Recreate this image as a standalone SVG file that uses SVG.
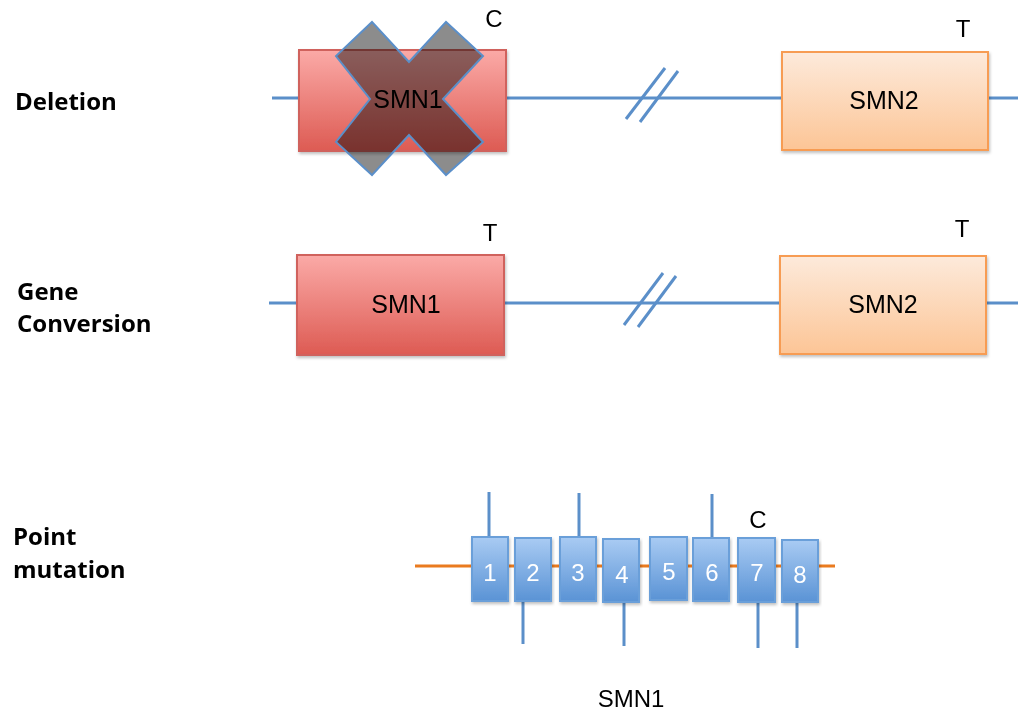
<svg xmlns="http://www.w3.org/2000/svg" width="1018" height="714" viewBox="0 0 1018 714">
<defs>
  <linearGradient id="gRed" x1="0" y1="0" x2="0" y2="1">
    <stop offset="0" stop-color="#fbaaa7"/>
    <stop offset="1" stop-color="#dd5b53"/>
  </linearGradient>
  <linearGradient id="gOrange" x1="0" y1="0" x2="0" y2="1">
    <stop offset="0" stop-color="#fdeadb"/>
    <stop offset="1" stop-color="#fcc596"/>
  </linearGradient>
  <linearGradient id="gBlue" x1="0" y1="0" x2="0" y2="1">
    <stop offset="0" stop-color="#a9cbf3"/>
    <stop offset="1" stop-color="#5a93d5"/>
  </linearGradient>
  <filter id="shadow" x="-10%" y="-10%" width="120%" height="130%">
    <feDropShadow dx="1" dy="2" stdDeviation="1.5" flood-color="#000" flood-opacity="0.25"/>
  </filter>
</defs>
<style>
  .dna { stroke: #5b8fc9; stroke-width: 3; fill: none; }
  .orangeLine { stroke: #ea7b1f; stroke-width: 3; fill: none; }
  .smn1 { fill: url(#gRed); stroke: #d0625d; stroke-width: 2; filter: url(#shadow); }
  .smn2 { fill: url(#gOrange); stroke: #f79c52; stroke-width: 2; filter: url(#shadow); }
  .exon { fill: url(#gBlue); stroke: #6a9fd9; stroke-width: 2; filter: url(#shadow); }
  .stem { stroke: #5b8fc9; stroke-width: 3; fill: none; }
  .cross { fill: #8c8c8c; mix-blend-mode: multiply; }
  .crossEdge { fill: none; stroke: #5b8fc9; stroke-width: 2; }
  .lbl { font-family: "Open Sans", "Liberation Sans", sans-serif; font-weight: bold; font-size: 24px; fill: #000; }
  .gene { font-family: "Liberation Sans", "Open Sans", sans-serif; font-size: 25px; fill: #000; text-anchor: middle; }
  .base { font-family: "Liberation Sans", "Open Sans", sans-serif; font-size: 24px; fill: #000; text-anchor: middle; }
  .num { font-family: "Liberation Sans", "Open Sans", sans-serif; font-size: 24px; fill: #fff; text-anchor: middle; }
</style>

<g id="connectors">
  <line class="dna" x1="272" y1="98" x2="1018" y2="98"/>
  <line class="dna" x1="626" y1="119" x2="665" y2="68"/>
  <line class="dna" x1="640" y1="122" x2="678" y2="71"/>
  <line class="dna" x1="269" y1="303" x2="1018" y2="303"/>
  <line class="dna" x1="624" y1="325" x2="663" y2="273"/>
  <line class="dna" x1="638" y1="327" x2="676" y2="276"/>
  <line class="orangeLine" x1="415" y1="566" x2="835" y2="566"/>
  <line class="stem" x1="489" y1="492" x2="489" y2="538"/>
  <line class="stem" x1="523" y1="601" x2="523" y2="644"/>
  <line class="stem" x1="579" y1="493" x2="579" y2="538"/>
  <line class="stem" x1="624" y1="602" x2="624" y2="646"/>
  <line class="stem" x1="712" y1="494" x2="712" y2="538"/>
  <line class="stem" x1="758" y1="602" x2="758" y2="648"/>
  <line class="stem" x1="797" y1="602" x2="797" y2="648"/>
</g>

<g id="label-deletion"><text class="lbl" x="15" y="110">Deletion</text></g>
<g id="label-gene-conversion">
  <text class="lbl" x="17" y="300">Gene</text>
  <text class="lbl" x="17" y="332">Conversion</text>
</g>
<g id="label-point-mutation">
  <text class="lbl" x="13" y="545">Point</text>
  <text class="lbl" x="13" y="578">mutation</text>
</g>

<g id="del-smn1">
  <rect class="smn1" x="299" y="50" width="207" height="101"/>
</g>
<g id="del-x">
  <polygon class="cross" points="372,22 409,62 446,22 483,56 443,99 483,142 446,175 409,135 372,175 336,142 370,99 336,56"/>
  <polygon class="crossEdge" points="372,22 409,62 446,22 483,56 443,99 483,142 446,175 409,135 372,175 336,142 370,99 336,56"/>
</g>
<g id="del-smn1-label"><text class="gene" x="408" y="108">SMN1</text></g>
<g id="del-c"><text class="base" x="494" y="27">C</text></g>
<g id="del-smn2">
  <rect class="smn2" x="782" y="52" width="206" height="98"/>
  <text class="gene" x="884" y="109">SMN2</text>
</g>
<g id="del-t"><text class="base" x="963" y="37">T</text></g>

<g id="gc-smn1">
  <rect class="smn1" x="297" y="255" width="207" height="100"/>
  <text class="gene" x="406" y="313">SMN1</text>
</g>
<g id="gc-t1"><text class="base" x="490" y="241">T</text></g>
<g id="gc-smn2">
  <rect class="smn2" x="780" y="256" width="206" height="98"/>
  <text class="gene" x="883" y="313">SMN2</text>
</g>
<g id="gc-t2"><text class="base" x="962" y="237">T</text></g>

<g id="exon1"><rect class="exon" x="472" y="537" width="36" height="64"/><text class="num" x="490" y="581">1</text></g>
<g id="exon2"><rect class="exon" x="515" y="538" width="36" height="63"/><text class="num" x="533" y="581">2</text></g>
<g id="exon3"><rect class="exon" x="560" y="537" width="36" height="64"/><text class="num" x="578" y="581">3</text></g>
<g id="exon4"><rect class="exon" x="603" y="539" width="36" height="63"/><text class="num" x="622" y="583">4</text></g>
<g id="exon5"><rect class="exon" x="650" y="537" width="37" height="63"/><text class="num" x="669" y="580">5</text></g>
<g id="exon6"><rect class="exon" x="693" y="538" width="36" height="63"/><text class="num" x="712" y="581">6</text></g>
<g id="exon7"><rect class="exon" x="738" y="538" width="37" height="64"/><text class="num" x="757" y="581">7</text></g>
<g id="exon8"><rect class="exon" x="782" y="540" width="36" height="62"/><text class="num" x="800" y="583">8</text></g>
<g id="pm-c"><text class="base" x="758" y="528">C</text></g>
<g id="pm-smn1"><text class="gene" x="631" y="707" style="font-size:24px">SMN1</text></g>
</svg>
